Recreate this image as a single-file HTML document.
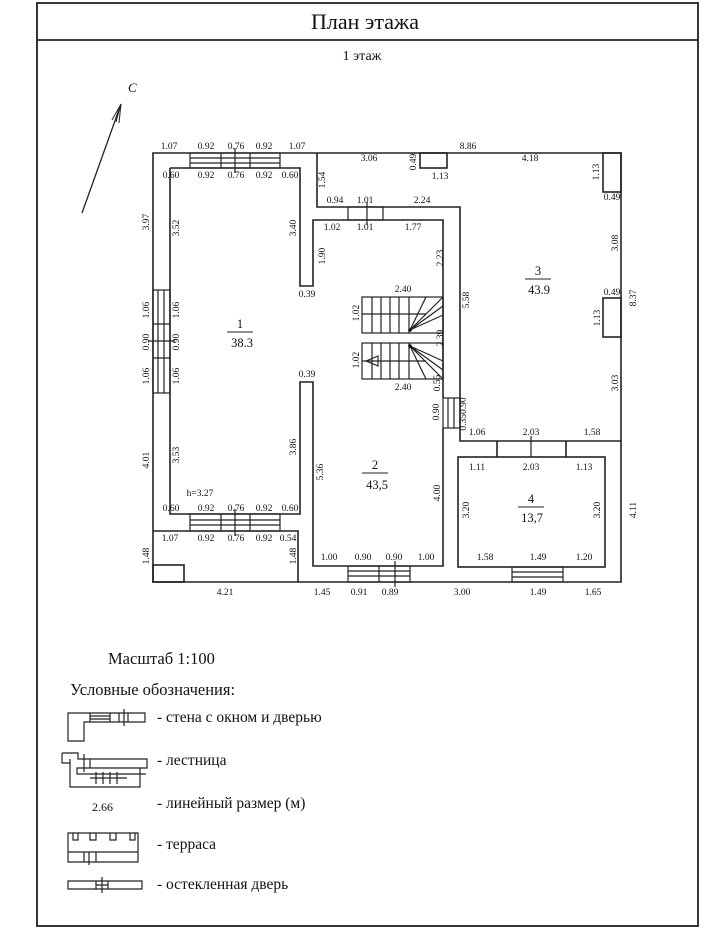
<!DOCTYPE html>
<html><head><meta charset="utf-8"><style>
html,body{margin:0;padding:0;background:#fff;}
svg{display:block;}
text{font-family:"Liberation Serif",serif;fill:#111;}
.d{font-size:9.5px;text-anchor:middle;}
.w{fill:none;stroke:#222;stroke-width:1.6;}
.t{stroke:#222;stroke-width:1.2;fill:none;}
.lg{font-size:15.5px;}
</style></head><body>
<svg width="720" height="931" viewBox="0 0 720 931" xmlns="http://www.w3.org/2000/svg">
<rect x="37" y="3" width="661" height="923" fill="none" stroke="#222" stroke-width="1.8"/>
<line x1="37" y1="40" x2="698" y2="40" stroke="#222" stroke-width="1.8"/>
<text x="365" y="29" font-size="22" text-anchor="middle">План этажа</text>
<text x="362" y="60" font-size="14" text-anchor="middle">1 этаж</text>
<!-- north -->
<line x1="82" y1="213" x2="121" y2="104" stroke="#222" stroke-width="1.3"/>
<path d="M121,104 L112,120 M121,104 L116,122 M121,104 L119,123" stroke="#222" fill="none"/>
<text x="128" y="92" font-size="13" font-style="italic" font-family="Liberation Sans">C</text>

<g class="w">
<path d="M153,153 L621,153 L621,582 L153,582 Z"/>
<path d="M170,168 L300,168 L300,286 L313,286 L313,220 L443,220 L443,398"/>
<path d="M317,153 L317,207 L460,207 L460,441 L621,441"/>
<path d="M170,168 L170,514 L300,514 L300,382 L313,382 L313,566 L443,566 L443,428"/>
<path d="M153,531 L298,531 L298,582"/>
<rect x="153" y="565" width="31" height="17"/>
<rect x="458" y="457" width="147" height="110"/>
<path d="M497,441 L497,457 M566,441 L566,457"/>
<rect x="420" y="153" width="27" height="15"/>
<rect x="603" y="153" width="18" height="39"/>
<rect x="603" y="298" width="18" height="39"/>
</g>
<g class="t">
<rect x="190" y="153" width="90" height="15"/>
<path d="M190,158 H280 M190,163 H280 M221,153 V168 M250,153 V168 M235,148 V173"/>
<rect x="190" y="514" width="90" height="17"/>
<path d="M190,520 H280 M190,525 H280 M221,514 V531 M250,514 V531 M235,509 V536"/>
<rect x="153" y="290" width="17" height="103"/>
<path d="M158,290 V393 M164,290 V393 M153,324 H170 M153,358 H170 M148,341 H175"/>
<rect x="348" y="207" width="35" height="13"/>
<path d="M367,202 V225"/>
<rect x="348" y="566" width="62" height="16"/>
<path d="M348,571 H410 M348,576 H410 M379,566 V582 M395,561 V587"/>
<rect x="443" y="398" width="17" height="30"/>
<path d="M448,398 V428 M454,398 V428"/>
<rect x="512" y="567" width="51" height="15"/>
<path d="M512,572 H563 M512,577 H563"/>
<path d="M531,436 V457"/>
<rect x="362" y="297" width="81" height="36"/>
<rect x="362" y="343" width="81" height="36"/>
<path d="M372,297 V333 M381,297 V333 M390,297 V333 M399,297 V333 M409,297 V333 M362,314 H426"/>
<path d="M372,343 V379 M381,343 V379 M390,343 V379 M399,343 V379 M409,343 V379 M362,361 H426"/>
<path d="M410,330 L443,297 M410,330 L443,306 M410,330 L443,315 M410,330 L426,297"/>
<path d="M410,346 L443,379 M410,346 L443,370 M410,346 L443,361 M410,346 L426,379"/>
<path d="M366,361 L378,356 L378,366 Z"/>
</g>
<circle cx="410" cy="330" r="1.8" fill="#111"/><circle cx="410" cy="346" r="1.8" fill="#111"/>

<g class="d">
<text x="169" y="149">1.07</text><text x="206" y="149">0.92</text><text x="236" y="149">0.76</text><text x="264" y="149">0.92</text><text x="297" y="149">1.07</text>
<text x="171" y="178">0.60</text><text x="206" y="178">0.92</text><text x="236" y="178">0.76</text><text x="264" y="178">0.92</text><text x="290" y="178">0.60</text>
<text x="369" y="161">3.06</text><text x="440" y="179">1.13</text><text x="468" y="149">8.86</text><text x="530" y="161">4.18</text><text x="612" y="200">0.49</text>
<text x="335" y="203">0.94</text><text x="365" y="203">1.01</text><text x="422" y="203">2.24</text>
<text x="332" y="230">1.02</text><text x="365" y="230">1.01</text><text x="413" y="230">1.77</text>
<text x="307" y="297">0.39</text><text x="403" y="292">2.40</text><text x="612" y="295">0.49</text>
<text x="307" y="377">0.39</text><text x="403" y="390">2.40</text>
<text x="477" y="435">1.06</text><text x="531" y="435">2.03</text><text x="592" y="435">1.58</text>
<text x="477" y="470">1.11</text><text x="531" y="470">2.03</text><text x="584" y="470">1.13</text>
<text x="200" y="496">h=3.27</text>
<text x="171" y="511">0.60</text><text x="206" y="511">0.92</text><text x="236" y="511">0.76</text><text x="264" y="511">0.92</text><text x="290" y="511">0.60</text>
<text x="170" y="541">1.07</text><text x="206" y="541">0.92</text><text x="236" y="541">0.76</text><text x="264" y="541">0.92</text><text x="288" y="541">0.54</text>
<text x="329" y="560">1.00</text><text x="363" y="560">0.90</text><text x="394" y="560">0.90</text><text x="426" y="560">1.00</text>
<text x="485" y="560">1.58</text><text x="538" y="560">1.49</text><text x="584" y="560">1.20</text>
<text x="225" y="595">4.21</text><text x="322" y="595">1.45</text><text x="359" y="595">0.91</text><text x="390" y="595">0.89</text><text x="462" y="595">3.00</text><text x="538" y="595">1.49</text><text x="593" y="595">1.65</text>
<text transform="translate(416,162) rotate(-90)">0.49</text>
<text transform="translate(599,172) rotate(-90)">1.13</text>
<text transform="translate(325,180) rotate(-90)">1.54</text>
<text transform="translate(149,222) rotate(-90)">3.97</text>
<text transform="translate(179,228) rotate(-90)">3.52</text>
<text transform="translate(296,228) rotate(-90)">3.40</text>
<text transform="translate(325,256) rotate(-90)">1.90</text>
<text transform="translate(443,258) rotate(-90)">2.23</text>
<text transform="translate(469,300) rotate(-90)">5.58</text>
<text transform="translate(618,243) rotate(-90)">3.08</text>
<text transform="translate(636,298) rotate(-90)">8.37</text>
<text transform="translate(600,318) rotate(-90)">1.13</text>
<text transform="translate(149,310) rotate(-90)">1.06</text><text transform="translate(179,310) rotate(-90)">1.06</text>
<text transform="translate(149,342) rotate(-90)">0.90</text><text transform="translate(179,342) rotate(-90)">0.90</text>
<text transform="translate(149,376) rotate(-90)">1.06</text><text transform="translate(179,376) rotate(-90)">1.06</text>
<text transform="translate(359,313) rotate(-90)">1.02</text>
<text transform="translate(443,338) rotate(-90)">2.39</text>
<text transform="translate(359,360) rotate(-90)">1.02</text>
<text transform="translate(440,383) rotate(-90)">0.55</text>
<text transform="translate(439,412) rotate(-90)">0.90</text>
<text transform="translate(466,414) rotate(-90)">0.350.90</text>
<text transform="translate(618,383) rotate(-90)">3.03</text>
<text transform="translate(149,460) rotate(-90)">4.01</text>
<text transform="translate(179,455) rotate(-90)">3.53</text>
<text transform="translate(296,447) rotate(-90)">3.86</text>
<text transform="translate(323,472) rotate(-90)">5.36</text>
<text transform="translate(440,493) rotate(-90)">4.00</text>
<text transform="translate(469,510) rotate(-90)">3.20</text>
<text transform="translate(600,510) rotate(-90)">3.20</text>
<text transform="translate(636,510) rotate(-90)">4.11</text>
<text transform="translate(149,556) rotate(-90)">1.48</text>
<text transform="translate(296,556) rotate(-90)">1.48</text>
</g>
<g font-size="12.5" text-anchor="middle">
<text x="240" y="328">1</text><line x1="227" y1="332" x2="253" y2="332" stroke="#222"/><text x="242" y="347">38.3</text>
<text x="375" y="469">2</text><line x1="362" y1="473" x2="388" y2="473" stroke="#222"/><text x="377" y="489">43,5</text>
<text x="538" y="275">3</text><line x1="525" y1="279" x2="551" y2="279" stroke="#222"/><text x="539" y="294">43.9</text>
<text x="531" y="503">4</text><line x1="518" y1="507" x2="544" y2="507" stroke="#222"/><text x="532" y="522">13,7</text>
</g>

<text x="108" y="664" font-size="16.5">Масштаб 1:100</text>
<text x="70" y="695" font-size="16.5">Условные обозначения:</text>
<g class="t">
<path d="M68,713 H145 V722 H84 V741 H68 Z"/>
<path d="M90,713 V722 M110,713 V722 M119,713 V722 M128,713 V722 M124,709 V726 M90,716 H110 M90,719 H110"/>
<path d="M62,753 H78 V759 H147 V768 H77 V774 H146 M70,759 V787 H140 V768 M62,753 V763 H70"/>
<path d="M84,754 V772 M90,759 V768 M90,778 H127 M96,772 V784 M103,772 V784 M110,772 V784 M117,772 V784"/>
<path d="M68,833 H138 V862 H68 Z M68,852 H138 M73,833 V840 H78 V833 M90,833 V840 H96 V833 M110,833 V840 H116 V833 M130,833 V840 H135 V833 M89,852 V865 M96,852 V862 M84,852 V862"/>
<path d="M68,881 H142 V889 H68 Z M96,881 V889 M108,881 V889 M102,877 V893 M96,885 H108"/>
</g>
<text x="92" y="811" font-size="12">2.66</text>
<text x="157" y="722" class="lg">- стена с окном и дверью</text>
<text x="157" y="765" class="lg">- лестница</text>
<text x="157" y="808" class="lg">- линейный размер (м)</text>
<text x="157" y="849" class="lg">- терраса</text>
<text x="157" y="889" class="lg">- остекленная дверь</text>
</svg>
</body></html>
